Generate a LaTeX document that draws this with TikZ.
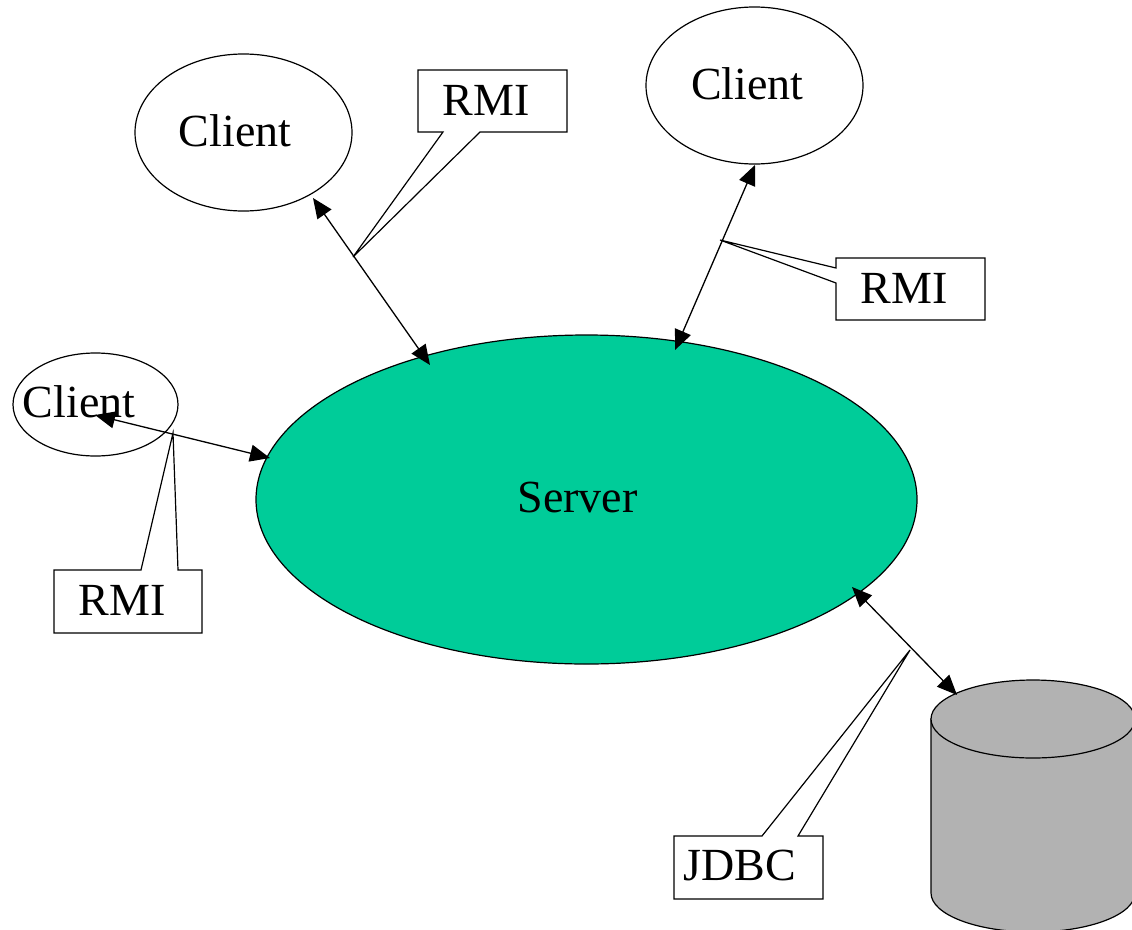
\documentclass[tikz,border=0pt]{standalone}
\usepackage{fontspec}
\setmainfont{Liberation Serif}
\usetikzlibrary{shapes.geometric,arrows.meta}
\definecolor{servergreen}{RGB}{0,204,153}
\definecolor{dbgray}{RGB}{178,178,178}
\tikzset{
  ell/.style={draw=black,line width=1.2pt,ellipse,inner sep=0pt,fill=white},
  txt/.style={anchor=base,inner sep=0pt,font=\fontsize{46}{50}\selectfont},
  link/.style={line width=1.3pt,{Triangle[length=20pt,width=17pt]}-{Triangle[length=20pt,width=17pt]}},
  callout/.style={draw=black,line width=1.2pt,fill=white,line join=miter}
}
\begin{document}
\begin{tikzpicture}[x=1pt,y=-1pt]
\useasboundingbox (0,0) rectangle (1132,929);
% database cylinder
\begin{scope}
\clip (0,0) rectangle (1132,929);
\path[draw=black,line width=1.2pt,fill=dbgray] (931,719) -- (931,893) arc[start angle=180,end angle=360,x radius=102,y radius=-39] -- (1135,719) -- cycle;
\node[ell,fill=dbgray,minimum width=204,minimum height=78] (db) at (1033,719) {};
\end{scope}
% server
\node[ell,fill=servergreen,minimum width=661,minimum height=329] (server) at (586.5,499.5) {};
\node[txt] (servertxt) at (577.5,512) {Server};
% clients
\node[ell,minimum width=217,minimum height=157] (c1) at (243.5,132.5) {};
\node[txt] (c1txt) at (235,146) {Client};
\node[ell,minimum width=217,minimum height=157] (c2) at (754.5,85.5) {};
\node[txt] (c2txt) at (747.5,99) {Client};
\node[ell,minimum width=165,minimum height=103] (c3) at (95.5,404.5) {};
\node[txt] (c3txt) at (79,417) {Client};
% connector end points
\coordinate (a1c) at (313,198);  \coordinate (a1s) at (430,365);
\coordinate (a2c) at (755,165);  \coordinate (a2s) at (675,350);
\coordinate (a3c) at (95,415);   \coordinate (a3s) at (270,458);
\coordinate (a4s) at (852,587);  \coordinate (a4d) at (957,695);
\draw[link] (a1c) -- (a1s);
\draw[link] (a2c) -- (a2s);
\draw[link] (a3c) -- (a3s);
\draw[link] (a4s) -- (a4d);
% callouts
\coordinate (p1) at (353,257);
\coordinate (p2) at (720,240);
\coordinate (p3) at (173,433);
\coordinate (p4) at (910,650);
\path[callout] (418,70) -- (567,70) -- (567,132) -- (480,132) -- (p1) -- (443,132) -- (418,132) -- cycle;
\node[txt] (rmi1) at (486,115) {RMI};
\path[callout] (836,258) -- (985,258) -- (985,320) -- (836,320) -- (836,283) -- (p2) -- (836,268) -- cycle;
\node[txt] (rmi2) at (904,303) {RMI};
\path[callout] (54,570) -- (141,570) -- (p3) -- (178,570) -- (202,570) -- (202,633) -- (54,633) -- cycle;
\node[txt] (rmi3) at (122,615) {RMI};
\path[callout] (674,836) -- (762,836) -- (p4) -- (798,836) -- (823,836) -- (823,899) -- (674,899) -- cycle;
\node[txt] (jdbc) at (740,880) {JDBC};
\end{tikzpicture}
\end{document}
